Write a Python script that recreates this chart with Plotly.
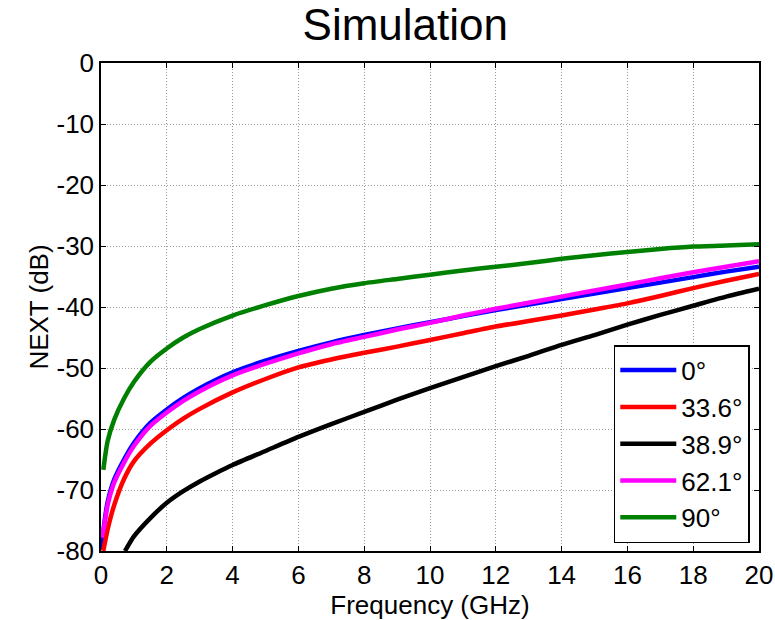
import plotly.graph_objects as go

# ---- data ----
freq_0 = [0.02, 0.1, 0.2, 0.4, 0.7, 1.0, 1.5, 2, 2.5, 3, 4, 5, 6, 7, 8, 9, 10,
          11, 12, 13, 14, 15, 16, 17, 18, 19, 20]
next_0 = [-79.8, -75.5, -72.0, -68.3, -65.0, -62.3, -59.0, -56.8, -54.9, -53.3,
          -50.7, -48.8, -47.2, -45.8, -44.6, -43.5, -42.5, -41.5, -40.5, -39.6,
          -38.7, -37.8, -36.9, -36.0, -35.1, -34.2, -33.4]

freq_336 = [0.07, 0.2, 0.4, 0.7, 1.0, 1.5, 2, 2.5, 3, 4, 5, 6, 7, 8, 9, 10,
            11, 12, 13, 14, 15, 16, 17, 18, 19, 20]
next_336 = [-80.0, -76.5, -72.5, -68.2, -65.3, -62.4, -60.2, -58.3, -56.7, -54.0,
            -51.8, -49.9, -48.6, -47.5, -46.5, -45.4, -44.3, -43.2, -42.3, -41.4,
            -40.4, -39.4, -38.2, -36.9, -35.7, -34.6]

freq_389 = [0.73, 1.0, 1.5, 2, 2.5, 3, 3.5, 4, 5, 6, 7, 8, 9, 10, 11, 12, 13, 14,
            15, 16, 17, 18, 19, 20]
next_389 = [-80.0, -77.6, -74.6, -72.1, -70.2, -68.6, -67.2, -65.9, -63.6, -61.3,
            -59.2, -57.2, -55.2, -53.3, -51.5, -49.7, -48.0, -46.2, -44.6, -42.9,
            -41.3, -39.8, -38.3, -37.0]

freq_621 = [0.02, 0.1, 0.2, 0.4, 0.7, 1.0, 1.5, 2, 2.5, 3, 4, 5, 6, 7, 8, 9, 10,
            11, 12, 13, 14, 15, 16, 17, 18, 19, 20]
next_621 = [-77.8, -75.8, -72.5, -68.8, -65.5, -62.8, -59.5, -57.3, -55.4, -53.8,
            -51.2, -49.3, -47.6, -46.1, -44.9, -43.7, -42.6, -41.4, -40.3, -39.3,
            -38.3, -37.3, -36.3, -35.3, -34.3, -33.4, -32.5]

freq_90 = [0.07, 0.2, 0.4, 0.7, 1.0, 1.5, 2, 2.5, 3, 4, 5, 6, 7, 8, 9, 10,
           11, 12, 13, 14, 15, 16, 17, 18, 19, 20]
next_90 = [-66.7, -62.0, -58.5, -55.0, -52.3, -49.0, -46.8, -45.0, -43.6, -41.4,
           -39.7, -38.2, -37.0, -36.1, -35.4, -34.7, -34.0, -33.4, -32.8, -32.1,
           -31.5, -31.0, -30.5, -30.1, -29.9, -29.7]

labels = ["0°", "33.6°", "38.9°", "62.1°", "90°"]
colors = ["#0000FF", "#FF0000", "#000000", "#FF00FF", "#008000"]
series = [(freq_0, next_0), (freq_336, next_336), (freq_389, next_389),
          (freq_621, next_621), (freq_90, next_90)]

x_ticks = list(range(0, 21, 2))
y_ticks = list(range(-80, 1, 10))
y_ticktext = [str(v) for v in y_ticks]  # plain hyphen minus, as in the reference

FONT = "Liberation Sans, Arial, sans-serif"

fig = go.Figure()
for (fx, fy), name, col in zip(series, labels, colors):
    fig.add_trace(go.Scatter(x=fx, y=fy, mode="lines", name=name,
                             line=dict(color=col, width=4.5, shape="spline", smoothing=0.6)))

axis_common = dict(showline=True, linecolor="black", linewidth=1.5, mirror="ticks",
                   ticks="inside", ticklen=5, tickwidth=1, tickcolor="black",
                   showgrid=True, gridcolor="#9a9a9a", griddash="1px,2px", gridwidth=1,
                   zeroline=False, automargin=False,
                   tickfont=dict(size=26, color="black", family=FONT))

fig.update_xaxes(range=[0, 20], tickvals=x_ticks,
                 title=dict(text="Frequency (GHz)", font=dict(size=26, color="black", family=FONT),
                            standoff=0),
                 **axis_common)
fig.update_yaxes(range=[-80, 0], tickvals=y_ticks, ticktext=y_ticktext,
                 title=dict(text="NEXT (dB)", font=dict(size=26, color="black", family=FONT),
                            standoff=0),
                 **axis_common)

fig.update_layout(
    width=775, height=620,
    margin=dict(l=101, r=16, t=63, b=69),
    paper_bgcolor="white", plot_bgcolor="white",
    font=dict(family=FONT, color="black"),
    title=dict(text="Simulation", x=0.523, xref="container", xanchor="center",
               y=0.96, yref="container", yanchor="middle",
               font=dict(size=44, color="black", family=FONT)),
    legend=dict(x=0.986, y=0.016, xanchor="right", yanchor="bottom",
                bgcolor="white", bordercolor="black", borderwidth=1.5,
                font=dict(size=26, color="black", family=FONT),
                tracegroupgap=0, itemwidth=56),
    showlegend=True,
)

fig.write_html("out.html")
